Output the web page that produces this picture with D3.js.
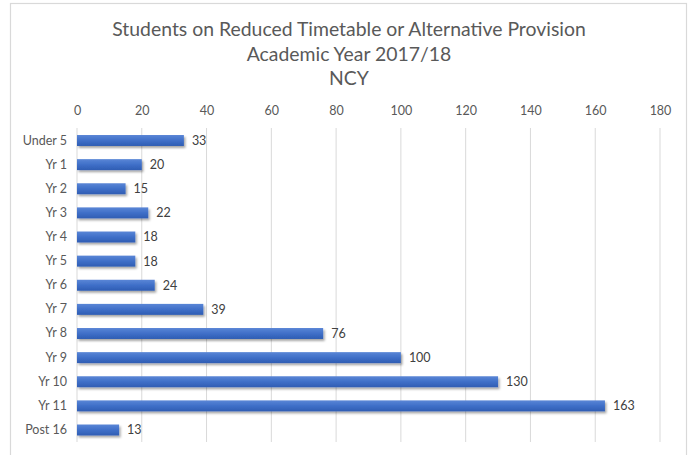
<!DOCTYPE html>
<html><head><meta charset="utf-8">
<script src="https://cdn.jsdelivr.net/npm/d3@7"></script>
<style>body{margin:0;background:#fff}svg{display:block}text{font-family:Lato,"Open Sans",sans-serif}</style>
</head><body>
<svg id="c" width="691" height="455"></svg>
<script>
const categories = ["Under 5","Yr 1","Yr 2","Yr 3","Yr 4","Yr 5","Yr 6","Yr 7","Yr 8","Yr 9","Yr 10","Yr 11","Post 16"];
const values = [33,20,15,22,18,18,24,39,76,100,130,163,13];
const xTicks = [0,20,40,60,80,100,120,140,160,180];
const titleLines = ["Students on Reduced Timetable or Alternative Provision","Academic Year 2017/18","NCY"];

const svg = d3.select("#c");
const defs = svg.append("defs");
const g1 = defs.append("linearGradient").attr("id","bg").attr("x1",0).attr("y1",0).attr("x2",0).attr("y2",1);
g1.append("stop").attr("offset","0%").attr("stop-color","#5a86d6");
g1.append("stop").attr("offset","50%").attr("stop-color","#3f6fc8");
g1.append("stop").attr("offset","100%").attr("stop-color","#2f5db3");
const f = defs.append("filter").attr("id","sh").attr("x","-10%").attr("y","-30%").attr("width","130%").attr("height","190%");
f.append("feDropShadow").attr("dx",1.5).attr("dy",2).attr("stdDeviation",1.2).attr("flood-color","#000").attr("flood-opacity",0.35);

svg.append("rect").attr("x",10.5).attr("y",3.5).attr("width",676).attr("height",460)
  .attr("fill","#fff").attr("stroke","#d9d9d9").attr("stroke-width",1.2);

const x = d3.scaleLinear().domain([0,180]).range([77,660]);
const y = d3.scaleBand().domain(categories).range([128.5,442]).paddingInner(0.545).paddingOuter(0.27);

svg.append("g").selectAll("line").data(xTicks).join("line")
  .attr("x1",d=>x(d)).attr("x2",d=>x(d)).attr("y1",128).attr("y2",442)
  .attr("stroke","#d9d9d9").attr("stroke-width",1);

const ax = svg.append("g").attr("transform","translate(0,111)")
  .call(d3.axisTop(x).tickValues(xTicks).tickSize(0).tickPadding(0));
ax.select(".domain").remove();
ax.selectAll("text").attr("fill","#595959").attr("font-size",12.5).attr("dy","0.35em").attr("y",0);

const ay = svg.append("g").attr("transform","translate(67,0)")
  .call(d3.axisLeft(y).tickSize(0).tickPadding(0));
ay.select(".domain").remove();
ay.selectAll("text").attr("fill","#595959").attr("font-size",12.5);

svg.append("g").selectAll("rect").data(values).join("rect")
  .attr("x",x(0)).attr("y",(d,i)=>y(categories[i]))
  .attr("width",d=>x(d)-x(0)).attr("height",y.bandwidth())
  .attr("fill","url(#bg)").attr("filter","url(#sh)");

svg.append("g").selectAll("text").data(values).join("text")
  .attr("x",d=>x(d)+8).attr("y",(d,i)=>y(categories[i])+y.bandwidth()/2)
  .attr("dy","0.35em").attr("fill","#404040").attr("font-size",12.5).text(d=>d);

svg.append("g").selectAll("text").data(titleLines).join("text")
  .attr("x",349).attr("y",(d,i)=>29.5+i*24.5).attr("dy","0.35em")
  .attr("text-anchor","middle").attr("fill","#595959").attr("font-size",19.4).text(d=>d);
</script>
</body></html>
